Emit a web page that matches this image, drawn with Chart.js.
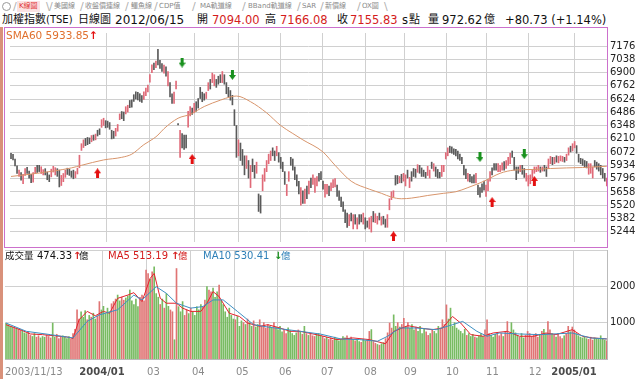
<!DOCTYPE html>
<html lang="zh-Hant">
<head>
<meta charset="UTF-8">
<title>加權指數(TSE) 日線圖</title>
<script src="https://cdn.jsdelivr.net/npm/chart.js"></script>
<style>
  html, body { margin: 0; padding: 0; background: #fff; }
  body { position: relative; width: 640px; height: 379px; overflow: hidden;
         font-family: "DejaVu Sans", "Noto Sans CJK TC", sans-serif; color: #111; }
  .a { position: absolute; white-space: nowrap; }
  .tab { top: 1px; font-size: 7px; line-height: 11px; color: #8a8a8a; }
  .sl { top: 0; font-size: 11px; line-height: 13px; color: #b0b0b0; }
  .hd { top: 13px; font-size: 12px; line-height: 14px; }
  .n { font-size: 11.5px; }
  .c { font-size: 11px; }
  .red { color: #d41c1c; }
  .vh { top: 250px; font-size: 10px; line-height: 12px; }
  .arr { font-weight: bold; }
  canvas { position: absolute; }
</style>
</head>
<body>
  <!-- left frame stripe -->
  <div class="a" style="left:0;top:27px;width:3px;height:352px;background:#d9917a"></div>

  <!-- tab bar -->
  <div class="a" style="left:2px;top:2px;width:7px;height:7px;border:1px solid #999;border-radius:50%"></div>
  <div class="a sl" style="left:13px">/</div>
  <div class="a tab" style="left:17px;color:#e03030;background:#fbe3e3;padding:0 2px">K線圖</div>
  <div class="a sl" style="left:46px">\</div>
  <div class="a sl" style="left:49px">/</div>
  <div class="a tab" style="left:54px">美國線</div>
  <div class="a sl" style="left:80px">/</div>
  <div class="a tab" style="left:85px">收盤價連線</div>
  <div class="a sl" style="left:125px">/</div>
  <div class="a tab" style="left:131px">鱷魚線</div>
  <div class="a sl" style="left:154px">/</div>
  <div class="a tab" style="left:159px">CDP值</div>
  <div class="a sl" style="left:192px">/</div>
  <div class="a tab" style="left:200px">MA軌道線</div>
  <div class="a sl" style="left:242px">/</div>
  <div class="a tab" style="left:248px">BBand軌道線</div>
  <div class="a sl" style="left:297px">/</div>
  <div class="a tab" style="left:302px">SAR</div>
  <div class="a sl" style="left:320px">/</div>
  <div class="a tab" style="left:325px">新價線</div>
  <div class="a sl" style="left:357px">/</div>
  <div class="a tab" style="left:362px">OX圖</div>
  <div class="a sl" style="left:384px">\</div>

  <!-- header line -->
  <div class="a hd c" style="left:2px">加權指數<span style="font-size:10px">(TSE)</span></div>
  <div class="a hd c" style="left:78px">日線圖</div>
  <div class="a hd" style="left:115px">2012/06/15</div>
  <div class="a hd c" style="left:197px">開</div>
  <div class="a hd n red" style="left:212px">7094.00</div>
  <div class="a hd c" style="left:265px">高</div>
  <div class="a hd n red" style="left:280px">7166.08</div>
  <div class="a hd c" style="left:337px">收</div>
  <div class="a hd n red" style="left:350px">7155.83</div>
  <div class="a hd n" style="left:402px">s</div>
  <div class="a hd c" style="left:409px">點</div>
  <div class="a hd c" style="left:428px">量</div>
  <div class="a hd n" style="left:442px">972.62</div>
  <div class="a hd c" style="left:484px">億</div>
  <div class="a hd n" style="left:505px">+80.73 (+1.14%)</div>

  <!-- price panel -->
  <canvas id="priceChart" width="635" height="219" style="left:5px;top:28px"></canvas>
  <div class="a" style="left:4px;top:27px;width:602px;height:219px;border:1px solid #cc70cc"></div>
  <div class="a" style="left:6px;top:29px;font-size:10.5px;line-height:12px;color:#e0702e">SMA60 5933.85<span class="arr" style="color:#e41010">↑</span></div>

  <!-- volume panel -->
  <canvas id="volChart" width="635" height="129" style="left:5px;top:250px"></canvas>
  <div class="a vh c" style="left:5px;font-size:9.5px">成交量</div>
  <div class="a vh" style="left:37px">474.33</div>
  <div class="a vh arr red" style="left:73px">↑</div>
  <div class="a vh c" style="left:79px;font-size:9.5px">億</div>
  <div class="a vh red" style="left:108px">MA5 513.19</div>
  <div class="a vh arr red" style="left:171px">↑</div>
  <div class="a vh red" style="left:178px;font-size:9.5px">億</div>
  <div class="a vh" style="left:203px;color:#2f80b8">MA10 530.41</div>
  <div class="a vh arr" style="left:274px;color:#19911e">↓</div>
  <div class="a vh" style="left:281px;font-size:9.5px;color:#2f80b8">億</div>

<script>
// daily bars, index 0 = 2003/11/13
const priceHigh = [
  6060,6050,6000,5930,5885,5860,5840,5900,5915,5875,
  5840,5860,5915,5935,5935,5920,5890,5900,5865,5835,
  5895,5925,5910,5900,5885,5830,5850,5885,5905,5895,
  5875,5885,5870,5905,6040,6160,6200,6215,6225,6220,
  6245,6250,6260,6300,6315,6410,6425,6400,6395,6380,
  6300,6290,6320,6360,6470,6495,6490,6545,6560,6610,
  6615,6670,6700,6695,6680,6660,6700,6740,6770,6880,
  6980,7000,7020,7143,7027,6994,6978,6961,6911,6795,
  6680,6696,6812,6370,6299,6266,6249,6249,6498,6547,
  6530,6580,6597,6630,6746,6696,6680,6696,6795,6829,
  6895,6878,6829,6862,6878,6911,6878,6796,6746,6713,
  6663,6514,6349,6200,6167,6100,6034,6034,5985,5935,
  6001,5935,5968,5637,5620,5836,5902,5985,6051,6084,
  6117,6084,6133,6067,6018,5968,5869,5736,5869,6018,
  6001,5918,5836,5769,5703,5670,5687,5720,5770,5802,
  5836,5802,5819,5852,5869,5770,5736,5736,5720,5753,
  5786,5796,5730,5670,5604,5554,5472,5438,5422,5438,
  5422,5422,5389,5422,5422,5438,5389,5356,5389,5405,
  5455,5432,5405,5438,5399,5405,5372,5422,5587,5660,
  5670,5829,5829,5819,5842,5852,5836,5885,5809,5869,
  5902,5895,5942,5935,5908,5885,5862,5925,5885,5968,
  5952,5918,5892,5862,5935,5935,6067,6117,6134,6127,
  6107,6101,6084,6051,6018,5935,5895,5852,5842,5819,
  5836,5852,5730,5703,5743,5770,5730,5786,5869,5908,
  5952,5952,5952,5935,5961,5975,5985,6018,6061,6084,
  6018,5918,5918,5935,5935,5902,5852,5829,5836,5885,
  5918,5918,5935,5918,5918,5935,5918,6001,6028,6018,
  6018,6034,6028,6034,6028,6018,6051,6117,6134,6160,
  6183,6140,6051,6008,6001,5985,5975,5952,5952,5918,
  5985,5968,5952,5935,5902,5852,5802
];
const priceLow = [
  6005,5990,5930,5850,5820,5780,5745,5830,5850,5800,
  5755,5760,5850,5860,5870,5850,5835,5835,5785,5765,
  5815,5865,5835,5820,5710,5725,5765,5810,5840,5830,
  5810,5795,5805,5845,5910,6090,6120,6140,6150,6160,
  6180,6195,6200,6240,6255,6330,6350,6325,6330,6310,
  6210,6215,6240,6290,6410,6420,6400,6470,6490,6535,
  6540,6600,6625,6615,6600,6590,6620,6660,6700,6800,
  6900,6930,6950,6980,6944,6911,6895,6862,6762,6647,
  6580,6580,6729,6356,6018,6117,6100,6117,6332,6448,
  6465,6481,6498,6531,6630,6597,6613,6630,6713,6729,
  6796,6762,6746,6779,6796,6796,6779,6680,6647,6613,
  6564,6349,6018,6034,5985,5935,5836,5902,5802,5703,
  5869,5802,5852,5455,5438,5670,5769,5869,5951,5985,
  6034,5985,6034,5968,5902,5869,5736,5620,5769,5935,
  5885,5786,5720,5637,5521,5538,5538,5587,5637,5703,
  5736,5654,5720,5770,5786,5687,5604,5637,5620,5670,
  5703,5710,5611,5571,5505,5455,5339,5290,5306,5356,
  5273,5323,5273,5323,5346,5323,5273,5290,5273,5240,
  5346,5339,5323,5366,5313,5323,5290,5290,5472,5578,
  5604,5730,5743,5753,5753,5770,5720,5803,5703,5770,
  5819,5809,5862,5852,5819,5819,5803,5829,5803,5902,
  5875,5819,5803,5803,5819,5869,6001,6034,6067,6061,
  6048,6034,6001,5985,5952,5836,5796,5770,5763,5753,
  5753,5753,5630,5604,5654,5677,5611,5670,5770,5836,
  5885,5885,5869,5869,5885,5885,5902,5935,5952,6018,
  5885,5786,5852,5869,5842,5809,5770,5720,5743,5803,
  5852,5869,5875,5862,5875,5875,5819,5902,5952,5942,
  5952,5968,5961,5981,5975,5968,5985,6041,6074,6084,
  6117,6061,5968,5952,5935,5918,5908,5842,5852,5803,
  5918,5895,5875,5836,5803,5770,5720
];
// 1 = closed up (red), 0 = closed down
const isUp = [
  0,0,0,0,1,0,1,1,0,0, 0,1,1,0,0,1,1,0,0,0, 1,1,1,0,0,1,1,1,0,0,
  0,0,1,1,1,1,1,0,0,0, 1,0,1,0,0,1,1,0,0,0, 0,0,1,1,1,0,0,1,1,0,
  0,0,0,0,0,0,1,1,1,1, 1,0,1,0,0,0,1,0,1,0, 0,1,1,0,1,0,0,0,1,1,
  0,1,0,0,0,0,0,1,1,0, 1,1,0,0,0,1,0,0,0,0, 0,0,0,1,0,0,0,1,0,1,
  0,0,1,0,0,1,1,1,1,1, 0,0,1,0,0,0,0,1,1,0, 0,0,0,0,1,0,1,0,1,0,
  1,1,1,0,0,0,1,1,0,1, 1,1,0,0,0,0,0,0,1,0, 1,0,1,0,0,1,0,0,1,1,
  0,1,1,0,1,0,0,1,1,1, 1,0,0,1,0,1,1,0,1,0, 0,0,1,0,0,0,0,1,1,0,
  1,0,0,0,1,1,1,1,0,0, 0,0,0,0,0,0,0,1,0,0, 0,1,0,0,0,0,1,1,1,0,
  0,0,1,1,1,0,1,1,1,0, 0,0,0,1,0,0,1,1,1,1, 1,1,1,0,1,0,0,1,1,0,
  1,0,1,1,1,0,1,1,0,1, 1,0,0,0,0,0,0,1,1,1, 0,0,0,0,0,0,1
];
// volume, 億
const volume = [
  980,950,900,880,860,840,820,800,780,720,
  700,760,650,620,700,600,640,580,620,600,
  660,620,580,990,600,680,560,620,640,600,
  560,620,540,700,820,1350,1100,1300,1150,1330,
  1080,1200,1150,1260,1100,1180,1580,1350,1450,1250,
  1400,1300,1520,1580,1650,1760,1600,1700,1620,1680,
  1740,1900,1600,1500,1650,1440,1700,1760,1600,2445,
  2354,2200,2400,2536,1800,1700,1500,1650,1400,1800,
  1450,1350,1300,530,2490,1440,1300,1580,1200,1350,
  1250,1400,1300,1200,1440,1350,1500,1440,1620,1990,
  1900,1850,1950,1700,1850,2035,1620,1500,1300,1150,
  1400,1200,1100,1080,1170,900,1050,1000,950,1100,
  1000,900,1050,880,950,1080,900,1000,850,950,
  900,850,1000,880,800,900,750,820,700,860,
  780,700,650,720,800,750,680,900,700,650,
  700,640,620,680,700,650,620,560,600,540,
  580,520,600,560,500,540,620,580,640,560,
  600,540,500,520,480,460,540,500,520,760,
  810,480,430,400,380,420,450,560,720,990,
  850,1215,900,1000,880,950,1120,900,1000,850,
  950,800,880,760,900,700,820,750,650,700,
  800,760,700,900,850,1080,950,1490,1100,1400,
  900,1000,850,800,760,700,820,650,700,620,
  680,600,580,640,700,620,800,1080,700,650,
  600,680,720,640,700,620,760,1030,700,1000,
  800,720,650,600,700,580,650,760,700,620,
  660,700,600,680,760,820,700,1030,800,700,
  650,600,700,620,560,640,700,900,750,880,
  800,700,640,600,580,620,560,540,600,520,
  580,560,540,640,560,520,500
];

// moving averages (bar index, value)
const sma60X = [0,13,30,35,46,55,60,66,71,73,76,83,89,96,104,109,112,119,127,134,140,145,155,161,169,178,184,189,194,199,207,215,221,227,235,243,250,260,268,276,284,296];
const sma60Y = [5819,5852,5908,5935,5991,6018,6051,6150,6216,6250,6316,6425,6465,6547,6613,6647,6656,6597,6481,6349,6266,6200,6074,5935,5770,5687,5644,5604,5587,5594,5621,5644,5660,5703,5770,5852,5885,5892,5902,5908,5912,5925];
const ma5X = [0,7,12,18,30,33,36,40,44,48,51,55,60,63,67,71,73,76,79,84,87,91,96,99,102,105,110,115,119,125,129,135,140,145,155,163,171,179,187,191,198,204,210,215,220,224,229,235,240,247,253,260,266,271,279,284,289,296];
const ma5Y = [944,807,689,670,607,561,1080,1310,1190,1310,1260,1670,1760,1826,1580,2218,2354,1670,1535,1535,1400,1310,1310,1535,1855,1717,1260,1170,990,900,944,853,762,762,645,534,580,534,420,760,917,853,807,853,1170,990,670,625,716,762,625,625,716,670,807,625,580,552];
const ma10X = [0,10,22,33,40,46,55,63,67,74,79,84,91,97,102,107,114,122,129,136,145,155,165,174,183,188,194,202,212,220,225,232,237,243,253,263,273,279,288,296];
const ma10Y = [990,762,670,580,1035,1215,1355,1760,1626,1990,1808,1535,1400,1444,1626,1626,1310,944,880,826,762,685,552,534,489,625,853,853,807,944,1035,762,625,716,689,670,698,716,580,552];

// buy / sell signal arrows
const buyX = [43, 90, 190, 239, 260];
const buyY = [5852, 6001, 5197, 5553, 5773];
const sellX = [85, 110, 233, 255];
const sellY = [7004, 6875, 6021, 6051];

// axes
const priceTicks = [5244,5382,5520,5658,5796,5934,6072,6210,6348,6486,6624,6762,6900,7038,7176];
const volumeTicks = [1000, 2000, 3000];
const monthLines = [47.3, 69, 91.1, 112.8, 134, 154.7, 175.9, 195.6, 216.3, 236, 257.1, 279.8];
const dateLabels = ['2003/11/13','2004/01','03','04','05','06','07','08','09','10','11','12','2005/01'];
const dateLabelPos = [-0.5].concat(monthLines);

const gridColor = '#d0d0d0';
const tickFont = { family: 'DejaVu Sans', size: 10 };

function makeArrow(color, down) {
  const c = document.createElement('canvas');
  c.width = 7; c.height = 10;
  const g = c.getContext('2d');
  g.fillStyle = color;
  if (down) { g.translate(0, 10); g.scale(1, -1); }
  g.beginPath(); g.moveTo(0, 5); g.lineTo(3.5, 0); g.lineTo(7, 5); g.closePath(); g.fill();
  g.fillRect(2, 4, 3, 6);
  return c;
}

function noPad(s) { s.paddingTop = 0; s.paddingBottom = 0; s.paddingLeft = 0; s.paddingRight = 0; }
const toPoints = (xs, ys) => xs.map((x, k) => ({ x: x, y: ys[k] }));

const xRange = { min: -0.5, max: 296.1 };

// price chart
new Chart(document.getElementById('priceChart'), {
  type: 'bar',
  data: {
    datasets: [
      {
        type: 'scatter', order: 1,
        data: toPoints(buyX, buyY),
        pointStyle: makeArrow('#e41010', false)
      },
      {
        type: 'scatter', order: 1,
        data: toPoints(sellX, sellY),
        pointStyle: makeArrow('#19911e', true)
      },
      {
        type: 'line', order: 2,
        data: toPoints(sma60X, sma60Y),
        borderColor: '#d8956c', borderWidth: 1, pointRadius: 0,
        cubicInterpolationMode: 'monotone'
      },
      {
        order: 3,
        data: priceHigh.map((h, i) => ({ x: i, y: [priceLow[i], h] })),
        backgroundColor: isUp.map(u => u ? '#e06a78' : '#5a5a5a'),
        barThickness: 1
      }
    ]
  },
  options: {
    responsive: false, animation: false, devicePixelRatio: 1,
    layout: { padding: 0 },
    plugins: { legend: { display: false }, tooltip: { enabled: false } },
    scales: {
      x: {
        type: 'linear', min: xRange.min, max: xRange.max, offset: false,
        afterBuildTicks: s => { s.ticks = monthLines.map(v => ({ value: v })); },
        afterFit: s => { s.height = 0; noPad(s); },
        ticks: { display: false, autoSkip: false },
        grid: { color: gridColor, drawTicks: false, offset: false },
        border: { display: false }
      },
      y: {
        position: 'right', min: 5137, max: 7312,
        afterBuildTicks: s => { s.ticks = priceTicks.map(v => ({ value: v })); },
        afterFit: s => { s.width = 33; noPad(s); },
        ticks: { font: tickFont, color: '#222', padding: 3, autoSkip: false, callback: v => String(v) },
        grid: { color: gridColor, drawTicks: false },
        border: { display: false }
      }
    }
  }
});

// bottom date labels
const dateLabelPlugin = {
  id: 'dateLabels',
  afterDraw(chart) {
    const xs = chart.scales.x, ctx = chart.ctx;
    ctx.save();
    ctx.textBaseline = 'middle';
    dateLabels.forEach((t, k) => {
      const isYear = t.length === 7;
      ctx.font = (isYear ? 'bold ' : '') + '10px "DejaVu Sans"';
      ctx.fillStyle = isYear ? '#4a4a4a' : '#8a8a8a';
      ctx.textAlign = isYear ? 'center' : 'left';
      const px = xs.getPixelForValue(dateLabelPos[k]);
      ctx.fillText(t, isYear || k === 0 ? px : px + 1, chart.chartArea.bottom + 13);
    });
    ctx.restore();
  }
};

// volume chart
new Chart(document.getElementById('volChart'), {
  type: 'bar',
  data: {
    datasets: [
      {
        type: 'line', order: 1,
        data: toPoints(ma10X, ma10Y),
        borderColor: '#3d8fc2', borderWidth: 1, pointRadius: 0, tension: 0
      },
      {
        type: 'line', order: 1,
        data: toPoints(ma5X, ma5Y),
        borderColor: '#e5222c', borderWidth: 1, pointRadius: 0, tension: 0
      },
      {
        order: 2,
        data: volume.map((v, i) => ({ x: i, y: v })),
        backgroundColor: isUp.map(u => u ? '#e07474' : '#78bb62'),
        barThickness: 1
      }
    ]
  },
  options: {
    responsive: false, animation: false, devicePixelRatio: 1,
    layout: { padding: 0 },
    plugins: { legend: { display: false }, tooltip: { enabled: false } },
    scales: {
      x: {
        type: 'linear', min: xRange.min, max: xRange.max, offset: false,
        afterBuildTicks: s => { s.ticks = monthLines.map(v => ({ value: v })); },
        afterFit: s => { s.height = 20; noPad(s); },
        ticks: { display: false, autoSkip: false },
        grid: { color: gridColor, drawTicks: false, offset: false },
        border: { display: true, color: '#bbbbbb' }
      },
      y: {
        position: 'right', min: 0, max: 3000,
        afterBuildTicks: s => { s.ticks = volumeTicks.map(v => ({ value: v })); },
        afterFit: s => { s.width = 33; noPad(s); },
        ticks: { font: tickFont, color: '#222', padding: 3, autoSkip: false,
                 callback: v => v === 3000 ? '' : String(v) },
        grid: { color: gridColor, drawTicks: false },
        border: { display: true, color: '#bbbbbb' }
      }
    }
  },
  plugins: [dateLabelPlugin]
});
</script>
</body>
</html>
